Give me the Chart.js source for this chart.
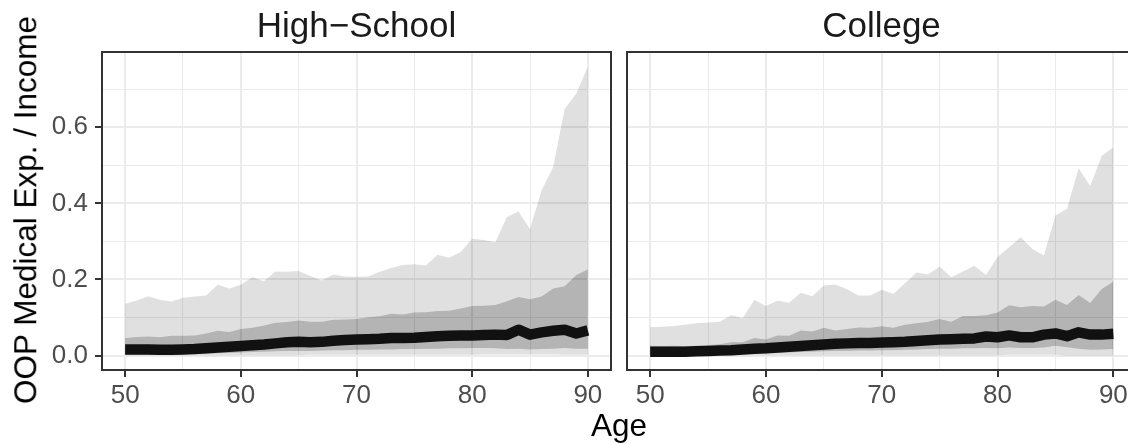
<!DOCTYPE html>
<html>
<head>
<meta charset="utf-8">
<script src="https://cdn.jsdelivr.net/npm/chart.js@4.4.1/dist/chart.umd.min.js"></script>
<style>
  html, body { margin: 0; padding: 0; background: #fff; overflow: hidden; }
  body { width: 1128px; height: 444px; position: relative; font-family: "Liberation Sans", Arial, sans-serif; }
  canvas { position: absolute; top: 0; }
  .txt { position: absolute; white-space: nowrap; line-height: 1; }
</style>
</head>
<body>

<canvas id="hs" width="620" height="444" style="left:0px"></canvas>
<canvas id="col" width="530" height="444" style="left:620px"></canvas>

<div class="txt" style="left:356.5px; top:7px; font-size:35px; color:#1a1a1a; transform:translateX(-50%)">High−School</div>
<div class="txt" style="left:881.5px; top:7px; font-size:35px; color:#1a1a1a; transform:translateX(-50%)">College</div>
<div class="txt" style="left:619px; top:410px; font-size:31.5px; color:#000; transform:translateX(-50%)">Age</div>
<div class="txt" style="left:25.5px; top:210px; font-size:31.5px; color:#000; transform:translate(-50%,-50%) rotate(-90deg)">OOP Medical Exp. / Income</div>

<script>
// ages 50..90
const ages = [50,51,52,53,54,55,56,57,58,59,60,61,62,63,64,65,66,67,68,69,70,
              71,72,73,74,75,76,77,78,79,80,81,82,83,84,85,86,87,88,89,90];

// High-School
const hsMedian = [.016,.016,.016,.015,.015,.016,.017,.019,.021,.023,
                  .025,.027,.029,.032,.035,.036,.035,.036,.039,.041,
                  .042,.043,.044,.046,.046,.047,.049,.051,.052,.053,
                  .053,.054,.055,.054,.068,.055,.061,.065,.068,.058,.066];
const hsDarkLo = [.003,.003,.003,.003,.003,.004,.004,.005,.006,.007,
                  .008,.009,.010,.011,.012,.012,.012,.013,.014,.014,
                  .015,.015,.016,.016,.017,.017,.018,.018,.019,.019,
                  .020,.020,.019,.017,.018,.016,.017,.018,.020,.018,.018];
const hsDarkHi = [.046,.049,.050,.048,.052,.052,.053,.058,.065,.062,
                  .070,.073,.079,.086,.088,.092,.089,.089,.094,.095,
                  .096,.101,.103,.110,.108,.113,.114,.117,.118,.124,
                  .130,.131,.133,.143,.154,.148,.155,.176,.182,.212,.226];
const hsLightLo = [.001,.001,.001,.001,.001,.001,.001,.001,.001,.001,
                   .001,.001,.001,.001,.001,.001,.002,.002,.002,.002,
                   .002,.002,.002,.002,.002,.002,.002,.002,.002,.002,
                   .002,.003,.003,.003,.003,.003,.003,.003,.002,.002,.002];
const hsLightHi = [.136,.145,.156,.147,.142,.152,.155,.158,.186,.176,
                   .186,.206,.195,.221,.220,.222,.209,.197,.213,.208,
                   .207,.208,.220,.230,.238,.240,.237,.265,.257,.272,
                   .307,.304,.298,.364,.379,.333,.434,.496,.649,.689,.759];

// College
const colMedian = [.010,.010,.010,.010,.011,.012,.013,.014,.016,.018,
                   .019,.021,.023,.025,.027,.029,.031,.032,.033,.033,
                   .034,.035,.036,.038,.040,.042,.043,.044,.045,.050,
                   .048,.053,.048,.048,.055,.058,.051,.061,.055,.055,.057];
const colDarkLo = [.002,.002,.002,.002,.003,.003,.003,.004,.005,.006,
                   .006,.007,.008,.009,.010,.011,.012,.012,.013,.013,
                   .014,.014,.015,.016,.017,.018,.018,.019,.019,.020,
                   .019,.021,.020,.020,.021,.026,.022,.018,.015,.016,.017];
const colDarkHi = [.026,.025,.026,.025,.026,.028,.030,.035,.035,.046,
                   .042,.053,.052,.066,.063,.073,.066,.070,.074,.073,
                   .077,.073,.081,.085,.089,.096,.089,.104,.104,.106,
                   .113,.132,.127,.130,.129,.147,.133,.159,.138,.175,.194];
const colLightLo = [.001,.001,.001,.001,.001,.001,.001,.001,.001,.001,
                    .001,.001,.001,.001,.001,.001,.001,.001,.001,.001,
                    .001,.001,.001,.001,.001,.001,.001,.001,.001,.001,
                    .001,.002,.002,.002,.002,.002,0,0,0,0,0];
const colLightHi = [.075,.076,.078,.081,.085,.087,.089,.106,.099,.147,
                    .130,.145,.139,.165,.156,.184,.187,.174,.158,.158,
                    .173,.162,.190,.218,.213,.234,.206,.221,.236,.212,
                    .259,.285,.311,.281,.263,.368,.386,.493,.446,.525,.547];

const xTicks = [50,55,60,65,70,75,80,85,90];
const yTicks = [0,0.1,0.2,0.3,0.4,0.5,0.6,0.7];

function pairs(ys) {
    return ages.map((a, i) => ({x: a, y: ys[i]}));
}

const isMajorX = v => v % 10 === 0;
const isMajorY = v => Math.round(v * 10) % 2 === 0;

const panelBorder = {
    id: 'panelBorder',
    afterDraw(chart) {
        const a = chart.chartArea, ctx = chart.ctx;
        ctx.save();
        ctx.strokeStyle = '#333333';
        ctx.lineWidth = 2;
        ctx.strokeRect(a.left, a.top, a.right - a.left, a.bottom - a.top);
        ctx.restore();
    }
};

function makePanel(id, med, dLo, dHi, lLo, lHi, showY, pad) {
    const band = (data, fill, color, order) => ({
        data: pairs(data), fill: fill, backgroundColor: color,
        borderColor: 'rgba(0,0,0,0)', borderWidth: 0, pointRadius: 0, order: order
    });
    return new Chart(document.getElementById(id), {
        type: 'line',
        data: {
            datasets: [
                { data: pairs(med), borderColor: '#111111', borderWidth: 10.5,
                  borderCapStyle: 'butt', borderJoinStyle: 'round',
                  pointRadius: 0, fill: false, order: 0 },
                band(dLo, false, 'rgba(0,0,0,0)', 1),
                band(dHi, '-1', 'rgba(0,0,0,0.2)', 1),
                band(lLo, false, 'rgba(0,0,0,0)', 2),
                band(lHi, '-1', 'rgba(0,0,0,0.12)', 2)
            ]
        },
        options: {
            responsive: false,
            animation: false,
            devicePixelRatio: 1,
            layout: { padding: pad },
            plugins: { legend: { display: false }, tooltip: { enabled: false } },
            scales: {
                x: {
                    type: 'linear', min: 48, max: 92,
                    afterBuildTicks: s => { s.ticks = xTicks.map(v => ({value: v})); },
                    afterFit: s => { s.height = 74; },
                    border: { display: false },
                    grid: {
                        color: '#ebebeb',
                        lineWidth: c => (c.tick && isMajorX(c.tick.value)) ? 2 : 1,
                        tickColor: c => (c.tick && isMajorX(c.tick.value)) ? '#333333' : 'rgba(0,0,0,0)',
                        tickWidth: 2,
                        tickLength: 7
                    },
                    ticks: {
                        autoSkip: false, maxRotation: 0, padding: 3,
                        color: '#4d4d4d',
                        font: { family: 'Liberation Sans, Arial, sans-serif', size: 26 },
                        callback: v => isMajorX(v) ? String(v) : ''
                    }
                },
                y: {
                    type: 'linear', min: -0.038, max: 0.798,
                    afterBuildTicks: s => { s.ticks = yTicks.map(v => ({value: v})); },
                    afterFit: s => { s.width = showY ? 102 : 7; },
                    border: { display: false },
                    grid: {
                        color: '#ebebeb',
                        lineWidth: c => (c.tick && isMajorY(c.tick.value)) ? 2 : 1,
                        drawTicks: showY,
                        tickColor: c => (c.tick && isMajorY(c.tick.value)) ? '#333333' : 'rgba(0,0,0,0)',
                        tickWidth: 2,
                        tickLength: 7
                    },
                    ticks: {
                        display: showY, autoSkip: false, padding: 7,
                        color: '#4d4d4d',
                        font: { family: 'Liberation Sans, Arial, sans-serif', size: 26 },
                        callback: v => isMajorY(v) ? v.toFixed(1) : ''
                    }
                }
            }
        },
        plugins: [panelBorder]
    });
}

makePanel('hs', hsMedian, hsDarkLo, hsDarkHi, hsLightLo, hsLightHi, true,
          { top: 52, left: 0, right: 9, bottom: 0 });
makePanel('col', colMedian, colDarkLo, colDarkHi, colLightLo, colLightHi, false,
          { top: 52, left: 0, right: 13.5, bottom: 0 });
</script>
</body>
</html>
